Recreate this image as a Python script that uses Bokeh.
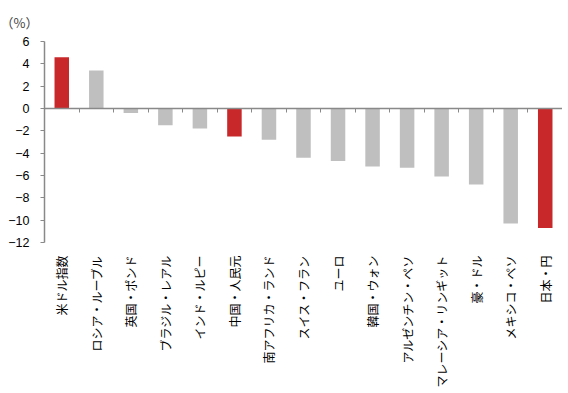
import math
from bokeh.plotting import figure
from bokeh.models import Range1d, LinearAxis, FixedTicker, ColumnDataSource
from bokeh.embed import file_html
from bokeh.resources import INLINE

categories = ["米ドル指数", "ロシア・ルーブル", "英国・ポンド", "ブラジル・レアル", "インド・ルピー",
              "中国・人民元", "南アフリカ・ランド", "スイス・フラン", "ユーロ", "韓国・ウォン",
              "アルゼンチン・ペソ", "マレーシア・リンギット", "豪・ドル", "メキシコ・ペソ", "日本・円"]
values = [4.6, 3.4, -0.4, -1.5, -1.8, -2.5, -2.8, -4.4, -4.7, -5.2, -5.3, -6.1, -6.8, -10.3, -10.7]
highlighted = ["米ドル指数", "中国・人民元", "日本・円"]
y_ticks = [6, 4, 2, 0, -2, -4, -6, -8, -10, -12]
y_tick_labels = ["6", "4", "2", "0", "−2", "−4", "−6", "−8", "−10", "−12"]
unit_label = "（%）"

RED = "#C8282A"
GRAY = "#BFBFBF"
AXIS = "#898989"

n = len(categories)
centers = [i + 0.5 for i in range(n)]
colors = [RED if c in highlighted else GRAY for c in categories]
src = ColumnDataSource(dict(x=centers, top=values, color=colors, name=categories))

p = figure(width=562, height=390, output_backend="svg", toolbar_location=None,
           x_range=Range1d(0, n), y_range=Range1d(-12, 6),
           x_axis_location=None, y_axis_location=None,
           min_border_left=44, min_border_right=0, min_border_top=40, min_border_bottom=147)
p.outline_line_color = None
p.grid.visible = False
p.background_fill_color = "white"
p.border_fill_color = "white"

p.vbar(x="x", top="top", bottom=0, width=0.42, color="color", line_color=None, source=src)

# y axis
yax = LinearAxis(ticker=FixedTicker(ticks=y_ticks))
yax.major_label_overrides = {t: l for t, l in zip(y_ticks, y_tick_labels)}
yax.axis_line_color = AXIS
yax.axis_line_width = 1.5
yax.major_tick_line_color = AXIS
yax.major_tick_out = 4
yax.major_tick_in = 0
yax.minor_tick_line_color = None
yax.major_label_standoff = 11
yax.major_label_text_font = "Liberation Sans"
yax.major_label_text_font_size = "12.5px"
yax.major_label_text_color = "black"
p.add_layout(yax, "left")

# category label axis at bottom
xax = LinearAxis(ticker=FixedTicker(ticks=centers))
xax.major_label_overrides = {c: name for c, name in zip(centers, categories)}
xax.major_label_orientation = math.pi / 2
xax.axis_line_color = None
xax.major_tick_line_color = None
xax.minor_tick_line_color = None
xax.major_label_standoff = 7
xax.major_label_text_font = "Noto Sans CJK JP"
xax.major_label_text_font_size = "12px"
xax.major_label_text_color = "black"
p.add_layout(xax, "below")

# zero line axis with ticks at category boundaries
zax = LinearAxis(ticker=FixedTicker(ticks=list(range(n + 1))), fixed_location=0)
zax.axis_line_color = AXIS
zax.axis_line_width = 1.5
zax.major_tick_line_color = AXIS
zax.major_tick_out = 4
zax.major_tick_in = 0
zax.minor_tick_line_color = None
zax.major_label_standoff = 0
zax.major_label_text_font_size = "0px"
zax.major_label_text_color = None
p.add_layout(zax, "below")

p.title.text = unit_label
p.title.align = "left"
p.title.offset = -44
p.title.standoff = 20
p.title.text_font = "Noto Sans CJK JP"
p.title.text_font_size = "13px"
p.title.text_font_style = "normal"

open("out.html", "w").write(file_html(p, INLINE))
